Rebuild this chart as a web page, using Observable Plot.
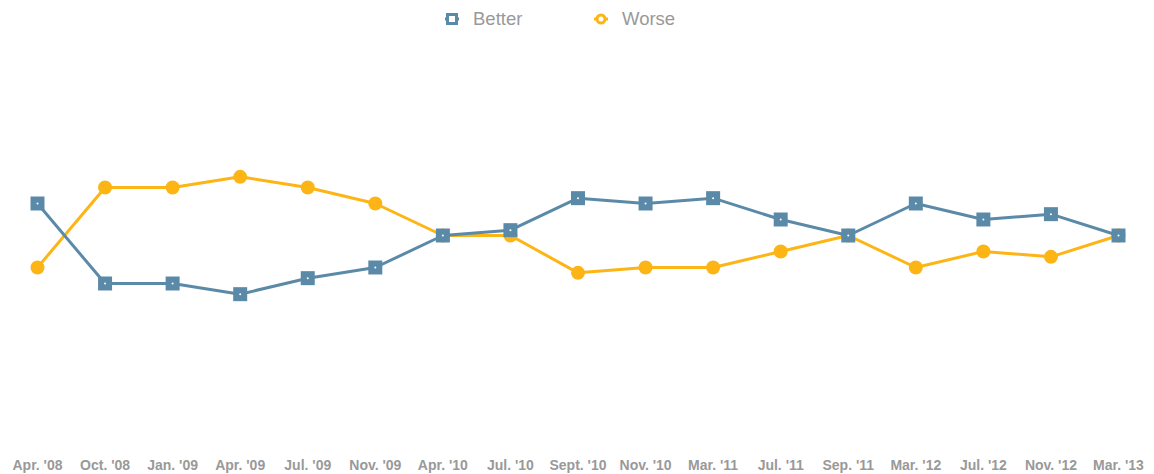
<!DOCTYPE html>
<html>
<head>
<meta charset="utf-8">
<script src="https://cdn.jsdelivr.net/npm/d3@7"></script>
<script src="https://cdn.jsdelivr.net/npm/@observablehq/plot@0.6"></script>
<style>
  html, body { margin: 0; padding: 0; background: #fff; }
  body { width: 1154px; height: 474px; overflow: hidden; font-family: "Liberation Sans", Arial, sans-serif; }
  #legend { position: relative; height: 38px; color: #999; font-size: 18.5px; }
  .item { position: absolute; top: 0; height: 38px; display: flex; align-items: center; }
  .item svg { margin-right: 14px; }
  #chart svg { display: block; }
</style>
</head>
<body>
<div id="legend"></div>
<div id="chart"></div>
<script>
const periods = ["Apr. '08","Oct. '08","Jan. '09","Apr. '09","Jul. '09","Nov. '09","Apr. '10","Jul. '10","Sept. '10","Nov. '10","Mar. '11","Jul. '11","Sep. '11","Mar. '12","Jul. '12","Nov. '12","Mar. '13"];
const better = [36, 21, 21, 19, 22, 24, 30, 31, 37, 36, 37, 33, 30, 36, 33, 34, 30];
const worse  = [24, 39, 39, 41, 39, 36, 30, 30, 23, 24, 24, 27, 30, 24, 27, 26, 30];
const seriesNames = ["Better", "Worse"];
const colors = ["#5b8aa9", "#fdb515"];

const rows = [];
periods.forEach((p, i) => {
  rows.push({period: p, series: "Better", value: better[i]});
  rows.push({period: p, series: "Worse", value: worse[i]});
});
const betterRows = rows.filter(d => d.series === "Better");
const worseRows = rows.filter(d => d.series === "Worse");

// legend
const legend = document.getElementById("legend");
legend.innerHTML = `
  <div class="item" style="left:445px">
    <svg width="14" height="12"><line x1="0" y1="6" x2="14" y2="6" stroke="${colors[0]}" stroke-width="3"/><rect x="2.5" y="1.5" width="9" height="9" fill="#fff" stroke="${colors[0]}" stroke-width="3"/></svg>
    <span>${seriesNames[0]}</span>
  </div>
  <div class="item" style="left:594px">
    <svg width="14" height="12"><line x1="0" y1="6" x2="14" y2="6" stroke="${colors[1]}" stroke-width="3"/><circle cx="7" cy="6" r="4" fill="#fff" stroke="${colors[1]}" stroke-width="3"/></svg>
    <span>${seriesNames[1]}</span>
  </div>`;

const chart = Plot.plot({
  width: 1154,
  height: 436,
  marginLeft: 37,
  marginRight: 36,
  marginTop: 37,
  marginBottom: 79,
  x: {type: "point", domain: periods, padding: 0, round: false, label: null},
  y: {domain: [0, 60], axis: null},
  style: {fontFamily: "Liberation Sans, Arial, sans-serif"},
  marks: [
    Plot.axisX({tickSize: 0, tickPadding: 65, fontSize: 14, fontWeight: "bold", fill: "#999", label: null}),
    Plot.line(worseRows, {x: "period", y: "value", stroke: colors[1], strokeWidth: 3}),
    Plot.dot(worseRows, {x: "period", y: "value", fill: colors[1], r: 7}),
    Plot.line(betterRows, {x: "period", y: "value", stroke: colors[0], strokeWidth: 3}),
    Plot.dot(betterRows, {x: "period", y: "value", fill: colors[0], symbol: "square", r: 7.9}),
    Plot.dot(betterRows, {x: "period", y: "value", fill: "#fff", r: 1})
  ]
});
document.getElementById("chart").appendChild(chart);
</script>
</body>
</html>
